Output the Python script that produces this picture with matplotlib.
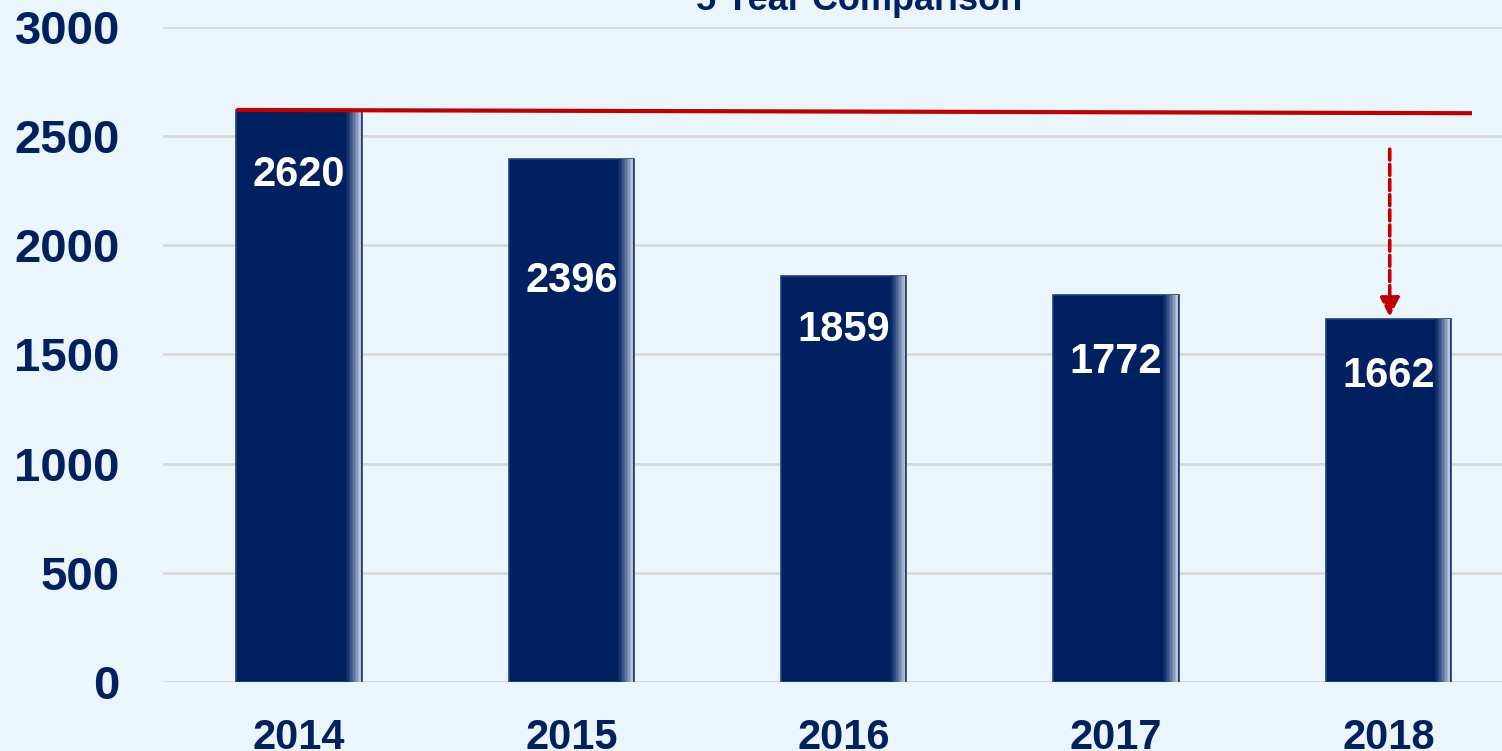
import numpy as np
import matplotlib.pyplot as plt
from matplotlib.colors import to_rgb

years = ["2014", "2015", "2016", "2017", "2018"]
cases = [2620, 2396, 1859, 1772, 1662]
# how far each value label sits below the bar top (points)
label_drop = [47, 88, 39, 48, 41]
ref_line = [2620, 2605]

NAVY = "#002060"
RED = "#C00000"
BG = "#EAF5FC"

plt.rcParams["font.family"] = ["Liberation Sans", "DejaVu Sans"]
plt.rcParams["font.weight"] = "bold"

fig = plt.figure(figsize=(15.02, 7.51), dpi=100)
fig.patch.set_facecolor(BG)
ax = fig.add_axes([0.1085, 0.0919, 0.9065, 0.8722])
ax.set_facecolor(BG)

x = np.arange(len(years))
w = 0.46
ax.bar(x, cases, width=w, color=NAVY, edgecolor="#243F77", linewidth=1.2, zorder=3)

# light shading strip on the right side of each bar
n = 10
sw = 0.055 / n
c0 = np.array(to_rgb(NAVY))
c1 = np.array(to_rgb("#B8C4DC"))
for k in range(n):
    t = (k + 1) / n
    col = c0 + (c1 - c0) * t ** 1.3
    ax.bar(x + w / 2 - 0.055 + sw * (k + 0.5) - 0.004, cases, width=sw,
           color=col, linewidth=0, zorder=4)

for xi, v, d in zip(x, cases, label_drop):
    ax.annotate(str(v), (xi, v), xytext=(0, -d), textcoords="offset points",
                ha="center", va="center", color="white", fontsize=30,
                fontweight="bold", zorder=6)

# reference line at 2014 level
ax.plot([-0.23, 4.307], ref_line, color=RED, linewidth=3, zorder=5,
        solid_capstyle="butt")

# dashed arrow down to 2018
ax.annotate("", xy=(4.005, cases[-1] + 10), xytext=(4.005, 2440),
            arrowprops=dict(arrowstyle="-|>,head_length=1.15,head_width=0.58",
                            color=RED, lw=2.6, linestyle=(0, (3, 1.2)),
                            shrinkA=0, shrinkB=0), zorder=6)

ax.set_xlim(-0.5, 4.5)
ax.set_ylim(0, 3000)
ax.set_yticks(range(0, 3001, 500))
ax.set_xticks(x)
ax.set_xticklabels(years)
ax.grid(axis="y", color="#D9D9D9", linewidth=2, zorder=0)
ax.set_axisbelow(True)
for s in ax.spines.values():
    s.set_visible(False)
ax.tick_params(axis="y", length=0, pad=31, labelsize=34, labelcolor=NAVY)
ax.tick_params(axis="x", length=0, pad=26, labelsize=30, labelcolor=NAVY)
for lab in ax.get_xticklabels() + ax.get_yticklabels():
    lab.set_fontweight("bold")

fig.text(0.572, 0.987, "5 Year Comparison", ha="center", va="baseline",
         fontsize=26, fontweight="bold", color=NAVY)

fig.savefig("out.png", dpi=100, facecolor=BG)
